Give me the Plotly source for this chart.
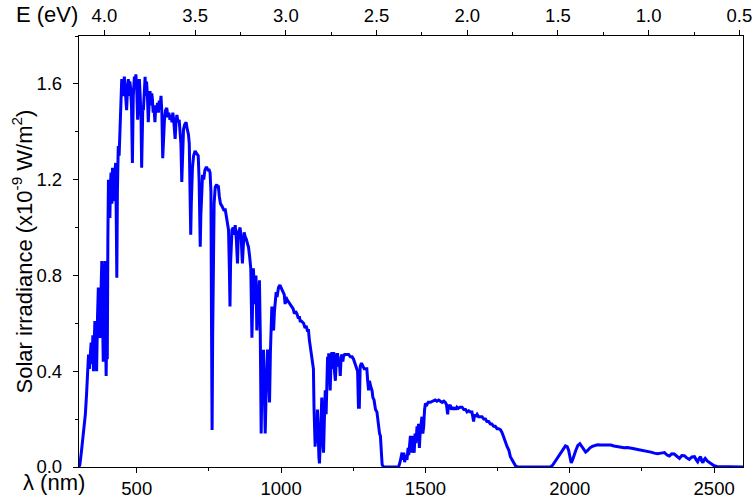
import plotly.graph_objects as go

# ---- data ----
wavelength_nm = [
    300, 303, 308, 313, 318, 322, 326, 330, 333, 336, 339, 342, 345, 348, 350, 353, 355, 358, 361, 364,
    367, 370, 373, 376, 379, 382, 384, 387, 390, 392, 394, 396, 398, 400, 402, 405, 407, 409, 411, 414,
    416, 419, 422, 425, 427, 429, 431, 433, 434, 436, 439, 442, 445, 448, 451, 454, 457, 459, 462, 465,
    468, 471, 474, 476, 479, 482, 485, 488, 492, 495, 497, 500, 503, 506, 509, 512, 515, 517, 519, 521,
    523, 526, 529, 531, 534, 537, 540, 543, 546, 549, 552, 554, 557, 560, 563, 566, 569, 572, 575, 578,
    581, 584, 587, 590, 593, 596, 600, 604, 608, 611, 615, 619, 622, 625, 628, 631, 633, 636, 639, 643,
    647, 650, 653, 656, 659, 662, 666, 671, 675, 679, 682, 685, 687, 689, 691, 693, 697, 702, 707, 711,
    713, 716, 718, 720, 722, 725, 728, 732, 736, 740, 743, 747, 751, 754, 757, 759, 761, 763, 765, 768,
    772, 777, 780, 783, 786, 790, 795, 800, 803, 806, 810, 814, 818, 821, 823, 825, 827, 830, 834, 838,
    841, 845, 849, 852, 855, 858, 862, 866, 869, 872, 876, 880, 884, 887, 891, 895, 899, 901, 904, 907,
    910, 913, 916, 919, 922, 925, 928, 931, 934, 936, 939, 942, 945, 948, 951, 953, 956, 958, 960, 963,
    966, 968, 971, 974, 977, 980, 983, 986, 991, 996, 1000, 1003, 1007, 1011, 1014, 1017, 1020, 1025, 1030, 1037,
    1042, 1046, 1050, 1055, 1060, 1063, 1066, 1070, 1075, 1078, 1083, 1087, 1091, 1095, 1098, 1101, 1105, 1109, 1112, 1114,
    1116, 1118, 1121, 1124, 1126, 1129, 1131, 1133, 1136, 1138, 1141, 1144, 1147, 1150, 1153, 1156, 1159, 1161, 1163, 1165,
    1167, 1170, 1173, 1176, 1179, 1182, 1185, 1188, 1191, 1193, 1196, 1199, 1202, 1205, 1208, 1211, 1214, 1216, 1220, 1224,
    1228, 1234, 1240, 1246, 1251, 1254, 1257, 1261, 1265, 1268, 1271, 1274, 1277, 1280, 1284, 1288, 1292, 1297, 1300, 1303,
    1306, 1309, 1312, 1315, 1318, 1322, 1327, 1332, 1335, 1338, 1341, 1344, 1347, 1350, 1355, 1380, 1407, 1412, 1416, 1419,
    1422, 1425, 1428, 1432, 1436, 1440, 1442, 1445, 1448, 1451, 1453, 1456, 1459, 1461, 1464, 1467, 1471, 1474, 1476, 1479,
    1482, 1485, 1488, 1491, 1494, 1497, 1500, 1505, 1510, 1517, 1525, 1534, 1540, 1546, 1552, 1558, 1564, 1569, 1573, 1577,
    1580, 1583, 1586, 1590, 1594, 1598, 1602, 1605, 1609, 1614, 1620, 1627, 1633, 1639, 1644, 1650, 1656, 1661, 1664, 1667,
    1670, 1674, 1679, 1684, 1690, 1696, 1702, 1708, 1713, 1719, 1725, 1730, 1736, 1742, 1748, 1754, 1760, 1765, 1771, 1777,
    1783, 1789, 1794, 1800, 1806, 1812, 1820, 1880, 1933, 1941, 1950, 1959, 1968, 1976, 1985, 1991, 1996, 2001, 2005, 2010,
    2015, 2021, 2028, 2035, 2042, 2049, 2055, 2061, 2070, 2078, 2087, 2096, 2107, 2119, 2130, 2142, 2153, 2165, 2176, 2188,
    2200, 2211, 2223, 2235, 2246, 2258, 2270, 2281, 2293, 2304, 2316, 2328, 2337, 2345, 2353, 2362, 2371, 2380, 2388, 2397,
    2405, 2414, 2423, 2432, 2438, 2443, 2448, 2453, 2457, 2461, 2465, 2469, 2476, 2484, 2492, 2500, 2510, 2550, 2600,
]

irradiance = [
    0.0, 0.01, 0.06, 0.12, 0.18, 0.22, 0.30, 0.39, 0.47, 0.41, 0.50, 0.52, 0.43, 0.55, 0.40, 0.58, 0.61, 0.45, 0.40, 0.62,
    0.75, 0.55, 0.54, 0.72, 0.86, 0.60, 0.44, 0.70, 0.86, 0.55, 0.38, 0.58, 0.45, 0.95, 1.20, 1.12, 1.04, 1.18, 1.23, 1.10,
    1.25, 1.22, 1.11, 1.24, 1.27, 1.05, 0.79, 1.15, 1.25, 1.34, 1.30, 1.42, 1.50, 1.62, 1.55, 1.57, 1.63, 1.60, 1.54, 1.49,
    1.58, 1.62, 1.55, 1.61, 1.58, 1.50, 1.27, 1.55, 1.63, 1.60, 1.64, 1.58, 1.45, 1.57, 1.62, 1.55, 1.45, 1.25, 1.42, 1.50,
    1.49, 1.58, 1.63, 1.55, 1.61, 1.55, 1.44, 1.52, 1.57, 1.51, 1.56, 1.54, 1.48, 1.50, 1.44, 1.51, 1.49, 1.52, 1.48, 1.53,
    1.50, 1.55, 1.48, 1.29, 1.42, 1.45, 1.49, 1.50, 1.46, 1.48, 1.45, 1.47, 1.44, 1.48, 1.45, 1.40, 1.37, 1.44, 1.47, 1.44,
    1.45, 1.40, 1.35, 1.19, 1.38, 1.41, 1.43, 1.44, 1.41, 1.39, 1.35, 1.15, 0.97, 1.10, 1.22, 1.25, 1.30, 1.32, 1.31, 1.30,
    1.30, 1.20, 1.05, 0.92, 1.05, 1.18, 1.22, 1.20, 1.24, 1.25, 1.25, 1.24, 1.24, 1.23, 1.15, 0.60, 0.155, 0.55, 0.95, 1.10,
    1.17, 1.18, 1.17, 1.17, 1.13, 1.10, 1.09, 1.08, 1.07, 1.08, 1.05, 1.02, 0.99, 0.82, 0.67, 0.85, 0.95, 0.99, 1.00, 0.97,
    1.01, 0.95, 0.85, 0.98, 0.99, 1.00, 0.95, 0.85, 0.92, 0.98, 0.96, 0.95, 0.93, 0.92, 0.88, 0.83, 0.54, 0.70, 0.83, 0.75,
    0.68, 0.80, 0.57, 0.65, 0.75, 0.78, 0.55, 0.14, 0.40, 0.35, 0.49, 0.30, 0.14, 0.30, 0.45, 0.49, 0.45, 0.35, 0.27, 0.48,
    0.60, 0.67, 0.62, 0.57, 0.65, 0.72, 0.73, 0.71, 0.75, 0.76, 0.75, 0.74, 0.73, 0.72, 0.68, 0.71, 0.70, 0.69, 0.68, 0.67,
    0.66, 0.64, 0.65, 0.64, 0.62, 0.63, 0.61, 0.61, 0.60, 0.60, 0.58, 0.59, 0.57, 0.57, 0.53, 0.50, 0.46, 0.43, 0.41, 0.25,
    0.12, 0.085, 0.20, 0.10, 0.24, 0.06, 0.04, 0.015, 0.10, 0.20, 0.29, 0.12, 0.06, 0.20, 0.32, 0.22, 0.35, 0.46, 0.38, 0.475,
    0.42, 0.32, 0.44, 0.48, 0.41, 0.48, 0.40, 0.36, 0.44, 0.47, 0.47, 0.42, 0.44, 0.38, 0.46, 0.47, 0.44, 0.46, 0.47, 0.47,
    0.47, 0.47, 0.46, 0.46, 0.45, 0.44, 0.43, 0.42, 0.40, 0.25, 0.25, 0.42, 0.43, 0.43, 0.42, 0.41, 0.41, 0.41, 0.36, 0.32,
    0.36, 0.34, 0.33, 0.32, 0.29, 0.28, 0.24, 0.23, 0.19, 0.15, 0.14, 0.13, 0.05, 0.01, 0.0, 0.0, 0.0, 0.02, 0.04, 0.06,
    0.03, 0.06, 0.02, 0.05, 0.03, 0.08, 0.05, 0.10, 0.13, 0.06, 0.13, 0.09, 0.07, 0.06, 0.14, 0.10, 0.17, 0.12, 0.18, 0.08,
    0.15, 0.19, 0.21, 0.14, 0.17, 0.24, 0.265, 0.26, 0.27, 0.27, 0.275, 0.28, 0.275, 0.28, 0.275, 0.27, 0.275, 0.27, 0.26, 0.22,
    0.26, 0.25, 0.26, 0.24, 0.25, 0.24, 0.25, 0.24, 0.25, 0.245, 0.25, 0.25, 0.24, 0.24, 0.23, 0.235, 0.23, 0.23, 0.21, 0.19,
    0.22, 0.21, 0.22, 0.21, 0.21, 0.21, 0.20, 0.20, 0.19, 0.19, 0.18, 0.18, 0.17, 0.17, 0.16, 0.16, 0.155, 0.145, 0.125, 0.10,
    0.085, 0.07, 0.044, 0.03, 0.015, 0.005, 0.0, 0.0, 0.0, 0.008, 0.024, 0.04, 0.058, 0.075, 0.088, 0.085, 0.07, 0.04, 0.017, 0.03,
    0.05, 0.07, 0.09, 0.097, 0.085, 0.07, 0.062, 0.068, 0.08, 0.086, 0.09, 0.093, 0.092, 0.093, 0.092, 0.092, 0.088, 0.085, 0.083, 0.08,
    0.081, 0.08, 0.076, 0.073, 0.071, 0.068, 0.065, 0.062, 0.058, 0.055, 0.058, 0.06, 0.05, 0.046, 0.055, 0.054, 0.045, 0.036, 0.048, 0.047,
    0.038, 0.032, 0.042, 0.043, 0.03, 0.022, 0.035, 0.043, 0.025, 0.018, 0.03, 0.036, 0.025, 0.018, 0.01, 0.005, 0.002, 0.0, 0.0,
]

x_ticks_nm = [500, 1000, 1500, 2000, 2500]
y_ticks = [0.0, 0.4, 0.8, 1.2, 1.6]
top_ticks_ev = [4.0, 3.5, 3.0, 2.5, 2.0, 1.5, 1.0, 0.5]

FONT = "Arial, Liberation Sans, sans-serif"
TICK_SIZE = 18.5
TITLE_SIZE = 22

fig = go.Figure()
fig.add_trace(go.Scatter(
    x=wavelength_nm, y=irradiance, mode="lines",
    line=dict(color="#0000FF", width=3),
    showlegend=False, hoverinfo="skip",
))
# empty helper trace so the top energy axis is drawn (no visible marks)
fig.add_trace(go.Scatter(
    x=top_ticks_ev, y=[None] * len(top_ticks_ev), xaxis="x2", yaxis="y",
    mode="lines", showlegend=False, hoverinfo="skip",
))

axis_common = dict(
    showline=True, linecolor="black", linewidth=1.3,
    ticks="outside", ticklen=5, tickwidth=1.3, tickcolor="black",
    showgrid=False, zeroline=False, automargin=False,
    tickfont=dict(family=FONT, size=TICK_SIZE, color="black"),
)
minor_common = dict(ticks="outside", ticklen=3, tickwidth=1.3, tickcolor="black")

fig.update_layout(
    width=753, height=501,
    margin=dict(l=79, r=10, t=36, b=34),
    paper_bgcolor="white", plot_bgcolor="white",
    font=dict(family=FONT, size=TICK_SIZE, color="black"),
    xaxis=dict(
        range=[300, 2600], tickvals=x_ticks_nm,
        minor=dict(dtick=250, tick0=0, **minor_common),
        mirror=True, **axis_common,
    ),
    yaxis=dict(
        range=[0, 1.8], tickvals=y_ticks, tickformat=".1f",
        minor=dict(dtick=0.2, tick0=0, **minor_common),
        mirror=True, ticklabelstandoff=7, **axis_common,
    ),
    xaxis2=dict(
        overlaying="x", side="top", anchor="y",
        range=[4.14, 0.48], tickvals=top_ticks_ev, tickformat=".1f",
        minor=dict(dtick=0.25, tick0=0, **minor_common),
        **axis_common,
    ),
    annotations=[
        dict(text="Solar irradiance (x10<sup>-9</sup> W/m<sup>2</sup>)", textangle=-90,
             xref="paper", yref="paper", x=-0.0859, y=0.5, xanchor="center", yanchor="middle",
             showarrow=False, font=dict(family=FONT, size=TITLE_SIZE, color="black")),
        dict(text="λ (nm)", xref="paper", yref="paper", x=0.012, y=-0.036,
             xanchor="right", yanchor="middle", showarrow=False,
             font=dict(family=FONT, size=TITLE_SIZE, color="black")),
        dict(text="E (eV)", xref="paper", yref="paper", x=0.0015, y=1.051,
             xanchor="right", yanchor="middle", showarrow=False,
             font=dict(family=FONT, size=TITLE_SIZE, color="black")),
    ],
)

fig.write_html("out.html")
